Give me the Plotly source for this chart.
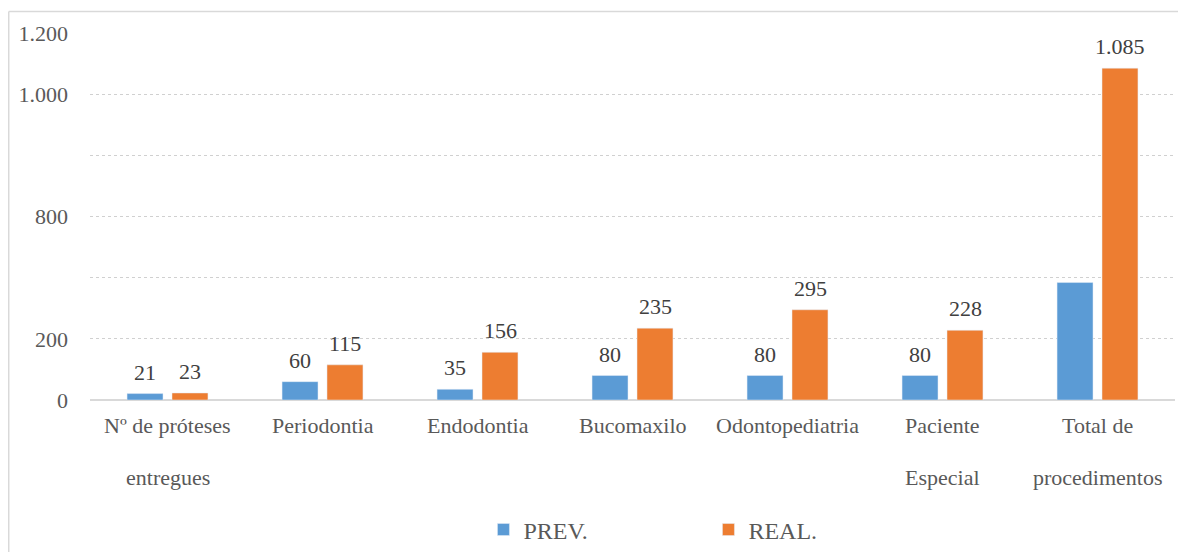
import plotly.graph_objects as go

categories = ["Nº de próteses entregues", "Periodontia", "Endodontia", "Bucomaxilo",
              "Odontopediatria", "Paciente Especial", "Total de procedimentos"]
cat_line1 = ["Nº de próteses", "Periodontia", "Endodontia", "Bucomaxilo",
             "Odontopediatria", "Paciente", "Total de"]
cat_line2 = ["entregues", "", "", "", "", "Especial", "procedimentos"]
prev_vals = [21, 60, 35, 80, 80, 80, 384]
real_vals = [23, 115, 156, 235, 295, 228, 1085]
prev_labels = ["21", "60", "35", "80", "80", "80", ""]
real_labels = ["23", "115", "156", "235", "295", "228", "1.085"]
y_tickvals = [0, 200, 400, 600, 800, 1000, 1200]
y_ticktext = ["0", "200", "", "800", "", "1.000", "1.200"]

FONT = "Liberation Serif"
TXT = "#595959"
LBL = "#404040"

fig = go.Figure()
fig.add_trace(go.Bar(x=categories, y=prev_vals, name="PREV.", marker_color="#5B9BD5"))
fig.add_trace(go.Bar(x=categories, y=real_vals, name="REAL.", marker_color="#ED7D31"))

ann = []
# data labels above bars
for vals, labels, shift in ((prev_vals, prev_labels, -22.5), (real_vals, real_labels, 22.5)):
    for c, v, t in zip(categories, vals, labels):
        if t:
            ann.append(dict(x=c, y=v, xref="x", yref="y", text=t, showarrow=False,
                            xshift=shift, yshift=7, yanchor="bottom",
                            font=dict(family=FONT, size=22, color=LBL)))
# category labels (two lines, wide spacing)
for c, l1, l2 in zip(categories, cat_line1, cat_line2):
    ann.append(dict(x=c, y=-0.0708, xref="x", yref="paper", text=l1, showarrow=False,
                    yanchor="middle", font=dict(family=FONT, size=22, color=TXT)))
    if l2:
        ann.append(dict(x=c, y=-0.2125, xref="x", yref="paper", text=l2, showarrow=False,
                        yanchor="middle", font=dict(family=FONT, size=22, color=TXT)))

fig.update_layout(
    width=1178, height=544,
    margin=dict(l=82, r=11, t=25, b=152, autoexpand=False),
    paper_bgcolor="white", plot_bgcolor="white",
    barmode="group", bargap=0.42, bargroupgap=0.2,
    font=dict(family=FONT, size=22, color=TXT),
    showlegend=True,
    legend=dict(orientation="h", x=0.570, xanchor="center", y=-0.354, yanchor="middle",
                entrywidth=180, entrywidthmode="pixels",
                font=dict(family=FONT, size=24, color=TXT)),
    annotations=ann,
    shapes=[
        dict(type="line", xref="paper", yref="paper", x0=-0.0749, x1=1.02, y0=1.0585, y1=1.0585,
             line=dict(color="#d9d9d9", width=1.5)),
        dict(type="line", xref="paper", yref="paper", x0=-0.0749, x1=-0.0749, y0=1.0585, y1=-0.45,
             line=dict(color="#d9d9d9", width=1.5)),
    ],
)
fig.update_xaxes(showticklabels=False, showline=False, showgrid=False, ticks="", automargin=False)
fig.update_yaxes(range=[0, 1200], tickvals=y_tickvals, ticktext=y_ticktext, automargin=False,
                 showgrid=True, gridcolor="#d0d0d0", griddash="dot", gridwidth=1,
                 zeroline=True, zerolinecolor="#d9d9d9", zerolinewidth=2,
                 showline=False, ticks="", ticklabelstandoff=21,
                 tickfont=dict(family=FONT, size=22, color=TXT))

fig.write_html("out.html")
